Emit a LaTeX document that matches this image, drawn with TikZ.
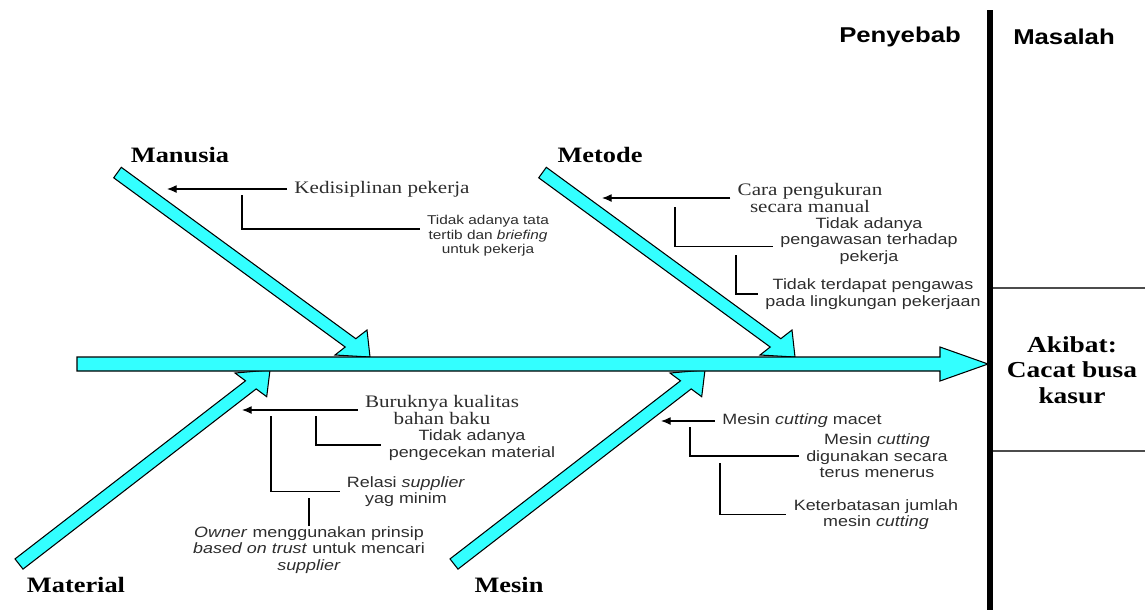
\documentclass[tikz,border=0pt]{standalone}
\usepackage{fontspec}
\setmainfont{Liberation Serif}[FakeStretch=1.2]
\setsansfont{Liberation Sans}[FakeStretch=1.2]
\usepackage{xcolor}
\usetikzlibrary{arrows.meta}
\definecolor{bonecyan}{RGB}{51,255,255}
\definecolor{textgray}{RGB}{45,45,45}

\begin{document}
\begin{tikzpicture}[x=0.02cm, y=-0.02cm,
  bone/.style={draw=black, line width=0.6pt, fill=bonecyan},
  catlabel/.style={font=\fontsize{12.5}{14}\selectfont\bfseries},
  cause/.style={font=\fontsize{10}{10}\selectfont, align=center, text=textgray, inner xsep=4pt, inner ysep=0pt},
  subcause/.style={font=\sffamily\fontsize{8.5}{9.4}\selectfont, align=center, text=textgray, inner xsep=4pt, inner ysep=0pt},
  subsmall/.style={subcause, font=\sffamily\fontsize{7.3}{8.2}\selectfont},
  link/.style={line width=0.6pt, -{Latex[length=5.5pt,width=4.5pt]}},
  bracket/.style={line width=0.6pt}]
\useasboundingbox (0,0) rectangle (1145,610);

% bones
\draw[bone] (113.7,177.8) -- (345.2,347.0) -- (335,355) -- (370,357) -- (367,330) -- (355.8,338.7) -- (121.3,167.3) -- cycle;
\draw[bone] (538.7,177.8) -- (770.2,347.0) -- (760,355) -- (795,357) -- (792,330) -- (780.8,338.7) -- (546.3,167.3) -- cycle;
\draw[bone] (15.0,558.9) -- (245.5,380.8) -- (235,373) -- (270,370) -- (266.7,396.7) -- (256.2,388.9) -- (23.0,569.1) -- cycle;
\draw[bone] (450.0,558.9) -- (680.5,380.8) -- (670,373) -- (705,370) -- (701.7,396.7) -- (691.2,388.9) -- (458.0,569.1) -- cycle;
% spine
\draw[bone] (77,357) -- (940,357) -- (940,347) -- (988,364) -- (940,381) -- (940,371) -- (77,371) -- cycle;

% right part
\draw[line width=3.2pt] (990,10) -- (990,610);
\draw[line width=0.6pt, black!70] (993,288) -- (1145,288);
\draw[line width=0.6pt, black!70] (993,451) -- (1145,451);
\node[font=\sffamily\bfseries\fontsize{12.2}{14}\selectfont] (penyebab) at (900,37) {Penyebab};
\node[font=\sffamily\bfseries\fontsize{12.2}{14}\selectfont] (masalah) at (1064,37) {Masalah};
\node[font=\bfseries\fontsize{13}{14.5}\selectfont, align=center] (akibat) at (1072,370) {Akibat:\\Cacat busa\\kasur};

% categories
\node[catlabel] (manusia) at (180,155) {Manusia};
\node[catlabel] (metode) at (600,155) {Metode};
\node[catlabel] (material) at (76,585) {Material};
\node[catlabel] (mesin) at (509,585) {Mesin};

% Manusia
\node[cause] (kedis) at (382,189) {Kedisiplinan pekerja};
\node[subsmall] (tata) at (488,236) {Tidak adanya tata\\tertib dan \textit{briefing}\\untuk pekerja};
\coordinate (man-a) at (167,189);
\coordinate (man-k) at (242,195);
\draw[link] (kedis.west) -- (man-a);
\draw[bracket] (man-k) |- ([yshift=4pt]tata.west);

% Metode
\node[cause] (cara) at (810,198) {Cara pengukuran\\secara manual};
\node[subcause] (awas) at (869,241) {Tidak adanya\\pengawasan terhadap\\pekerja};
\node[subcause] (lingk) at (873,294) {Tidak terdapat pengawas\\pada lingkungan pekerjaan};
\coordinate (met-a) at (602,198);
\coordinate (met-k1) at (675,207);
\coordinate (met-k2) at (736,255);
\draw[link] (cara.west) -- (met-a);
\draw[bracket] (met-k1) |- ([yshift=-3pt]awas.west);
\draw[bracket] (met-k2) |- (lingk.west);

% Material
\node[cause] (buruk) at (442,410) {Buruknya kualitas\\bahan baku};
\node[subcause] (cek) at (472,445) {Tidak adanya\\pengecekan material};
\node[subcause] (relasi) at (406,491.5) {Relasi \textit{supplier}\\yag minim};
\node[subcause] (owner) at (309,550) {\textit{Owner} menggunakan prinsip\\\textit{based on trust} untuk mencari\\\textit{supplier}};
\coordinate (mat-a) at (242,410);
\coordinate (mat-k1) at (316,416);
\coordinate (mat-k2) at (271,416);
\coordinate (mat-k3) at (309,498);
\draw[link] (buruk.west) -- (mat-a);
\draw[bracket] (mat-k1) |- (cek.west);
\draw[bracket] (mat-k2) |- (relasi.west);
\draw[bracket] (owner.north) -- (mat-k3);

% Mesin
\node[subcause] (macet) at (802,421) {Mesin \textit{cutting} macet};
\node[subcause] (terus) at (877,456) {Mesin \textit{cutting}\\digunakan secara\\terus menerus};
\node[subcause] (batas) at (876,514.5) {Keterbatasan jumlah\\mesin \textit{cutting}};
\coordinate (mes-a) at (661,421);
\coordinate (mes-k1) at (690,427);
\coordinate (mes-k2) at (720,463);
\draw[link] (macet.west) -- (mes-a);
\draw[bracket] (mes-k1) |- (terus.west);
\draw[bracket] (mes-k2) |- (batas.west);
\end{tikzpicture}
\end{document}
